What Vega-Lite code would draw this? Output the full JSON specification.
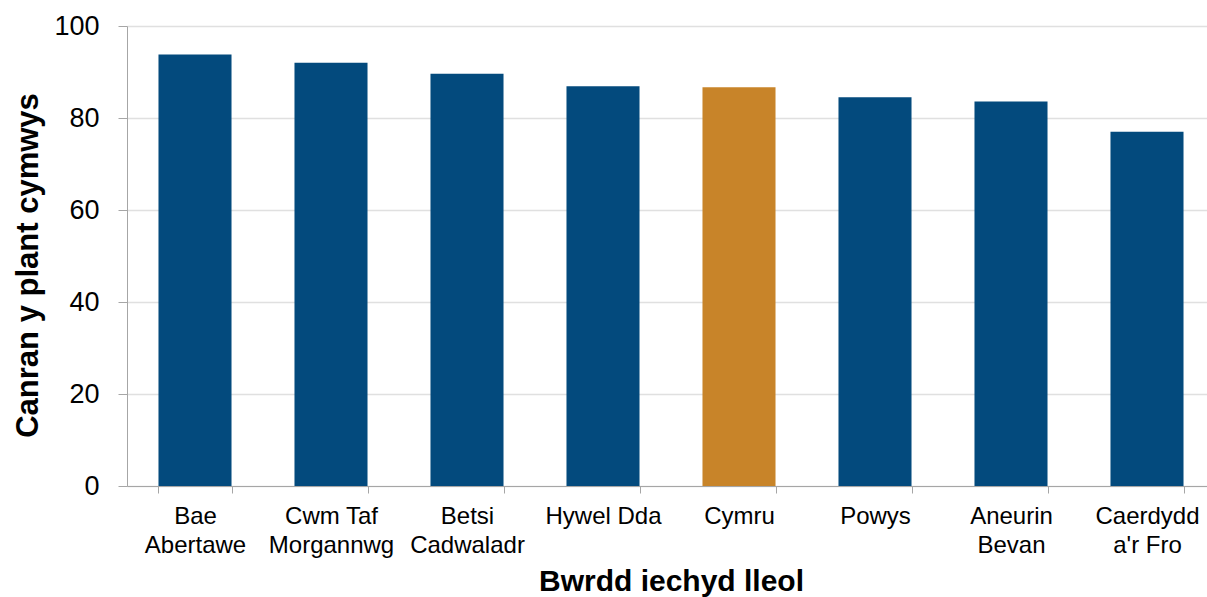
{
  "$schema": "https://vega.github.io/schema/vega-lite/v6.json",
  "width": 1080,
  "height": 460,
  "autosize": {"type": "none"},
  "padding": {"left": 127, "top": 26, "right": 0, "bottom": 111},
  "config": {"view": {"stroke": null}, "font": "Liberation Sans"},
  "data": {
    "values": [
      {"region": "Bae Abertawe", "value": 93.8, "kind": "Bwrdd"},
      {"region": "Cwm Taf Morgannwg", "value": 92.0, "kind": "Bwrdd"},
      {"region": "Betsi Cadwaladr", "value": 89.6, "kind": "Bwrdd"},
      {"region": "Hywel Dda", "value": 86.9, "kind": "Bwrdd"},
      {"region": "Cymru", "value": 86.7, "kind": "Cymru"},
      {"region": "Powys", "value": 84.5, "kind": "Bwrdd"},
      {"region": "Aneurin Bevan", "value": 83.6, "kind": "Bwrdd"},
      {"region": "Caerdydd a'r Fro", "value": 77.0, "kind": "Bwrdd"}
    ]
  },
  "mark": {"type": "bar"},
  "encoding": {
    "x": {
      "field": "region",
      "type": "nominal",
      "sort": null,
      "scale": {"range": [0, 1088], "paddingInner": 0.463, "paddingOuter": 0.2315},
      "axis": {
        "title": "Bwrdd iechyd lleol",
        "titleFontSize": 30,
        "titleFontWeight": "bold",
        "titleColor": "black",
        "titleBaseline": "alphabetic",
        "titleX": 544,
        "titleY": 104,
        "labelAngle": 0,
        "labelFontSize": 24,
        "labelColor": "black",
        "labelBaseline": "alphabetic",
        "labelPadding": 30,
        "labelLineHeight": 29,
        "labelOverlap": false,
        "labelBound": false,
        "labelExpr": "datum.label == 'Bae Abertawe' ? ['Bae','Abertawe'] : datum.label == 'Cwm Taf Morgannwg' ? ['Cwm Taf','Morgannwg'] : datum.label == 'Betsi Cadwaladr' ? ['Betsi','Cadwaladr'] : datum.label == 'Aneurin Bevan' ? ['Aneurin','Bevan'] : datum.label == \"Caerdydd a'r Fro\" ? ['Caerdydd', \"a'r Fro\"] : datum.label",
        "tickBand": "extent",
        "tickSize": 7,
        "tickColor": "#a6a6a6",
        "domainColor": "#a6a6a6",
        "grid": false
      }
    },
    "y": {
      "field": "value",
      "type": "quantitative",
      "scale": {"domain": [0, 100]},
      "axis": {
        "title": "Canran y plant cymwys",
        "titleFontSize": 31,
        "titleFontWeight": "bold",
        "titleColor": "black",
        "titleBaseline": "alphabetic",
        "titleX": -90,
        "titleY": 239,
        "labelFontSize": 27,
        "labelColor": "black",
        "labelPadding": 19,
        "tickSize": 9,
        "values": [0, 20, 40, 60, 80, 100],
        "tickColor": "#a6a6a6",
        "domainColor": "#a6a6a6",
        "gridColor": "#e0e0e0",
        "gridWidth": 1.3
      }
    },
    "color": {
      "field": "kind",
      "type": "nominal",
      "scale": {"domain": ["Bwrdd", "Cymru"], "range": ["#034a7d", "#c88429"]},
      "legend": null
    }
  }
}
